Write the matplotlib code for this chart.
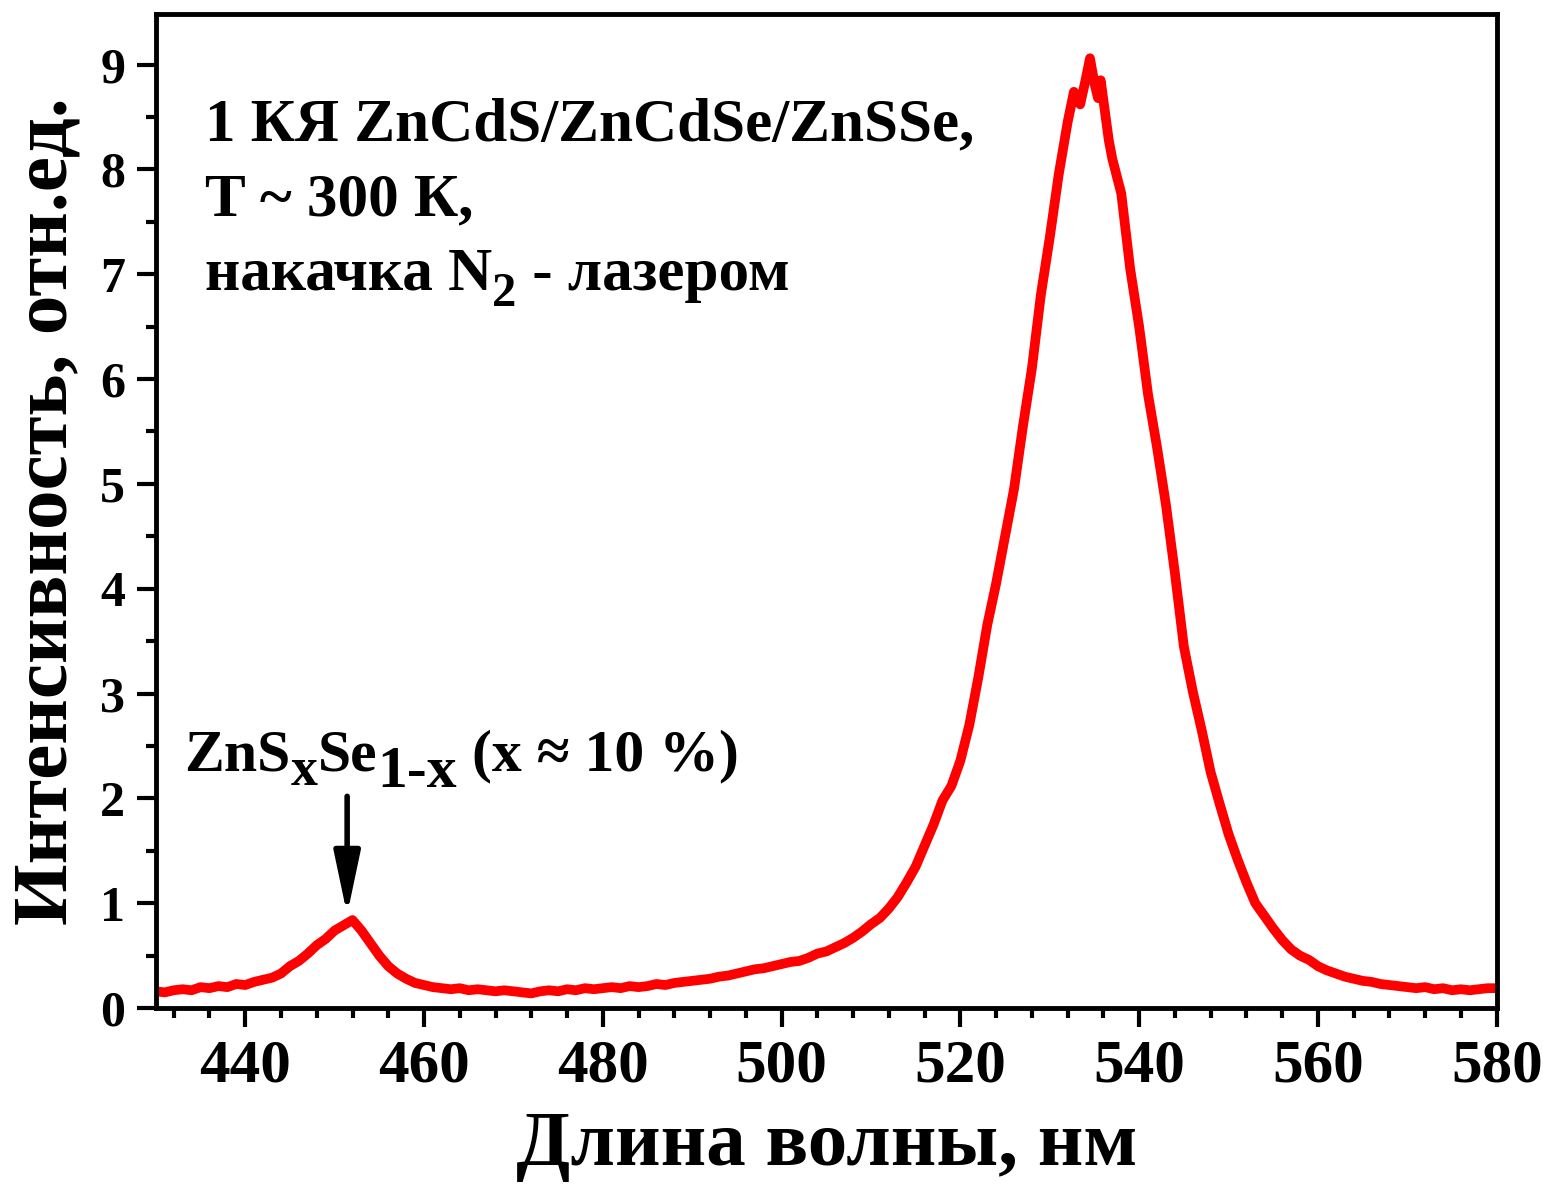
import matplotlib
matplotlib.use("Agg")
import matplotlib.pyplot as plt
from matplotlib.ticker import MultipleLocator
from matplotlib.transforms import offset_copy

plt.rcParams['font.family'] = ['Liberation Serif', 'DejaVu Serif']
plt.rcParams['font.weight'] = 'bold'

# спектр ФЛ
wavelength = [430, 431, 432, 433, 434, 435, 436, 437, 438, 439,
              440, 441, 442, 443, 444, 445, 446, 447, 448, 449,
              450, 451, 452, 453, 454, 455, 456, 457, 458, 459,
              460, 461, 462, 463, 464, 465, 466, 467, 468, 469,
              470, 471, 472, 473, 474, 475, 476, 477, 478, 479,
              480, 481, 482, 483, 484, 485, 486, 487, 488, 489,
              490, 491, 492, 493, 494, 495, 496, 497, 498, 499,
              500, 501, 502, 503, 504, 505, 506, 507, 508, 509,
              510, 511, 512, 513, 514, 515, 516, 517, 518, 519,
              520, 521, 522, 523, 524, 525, 526, 527, 528, 529,
              530, 531, 532, 532.7, 533.4, 534, 534.5, 535, 535.4, 535.7,
              536.6, 537, 538, 539, 540, 541, 542, 543, 544, 545,
              546, 547, 548, 549, 550, 551, 552, 553, 554, 555,
              556, 557, 558, 559, 560, 561, 562, 563, 564, 565,
              566, 567, 568, 569, 570, 571, 572, 573, 574, 575,
              576, 577, 578, 579, 580]
intensity = [0.16, 0.15, 0.17, 0.18, 0.17, 0.20, 0.19, 0.21, 0.20, 0.23,
             0.22, 0.25, 0.27, 0.29, 0.33, 0.40, 0.45, 0.52, 0.60, 0.66,
             0.74, 0.79, 0.84, 0.74, 0.62, 0.50, 0.40, 0.33, 0.28, 0.24,
             0.22, 0.20, 0.19, 0.18, 0.19, 0.17, 0.18, 0.17, 0.16, 0.17,
             0.16, 0.15, 0.14, 0.16, 0.17, 0.16, 0.18, 0.17, 0.19, 0.18,
             0.19, 0.20, 0.19, 0.21, 0.20, 0.21, 0.23, 0.22, 0.24, 0.25,
             0.26, 0.27, 0.28, 0.30, 0.31, 0.33, 0.35, 0.37, 0.38, 0.40,
             0.42, 0.44, 0.45, 0.48, 0.52, 0.54, 0.58, 0.62, 0.67, 0.73,
             0.80, 0.86, 0.95, 1.06, 1.20, 1.35, 1.55, 1.75, 1.98, 2.12,
             2.36, 2.70, 3.15, 3.65, 4.05, 4.50, 4.95, 5.55, 6.10, 6.80,
             7.35, 7.95, 8.45, 8.74, 8.62, 8.85, 9.06, 8.82, 8.68, 8.85,
             8.28, 8.10, 7.77, 7.05, 6.50, 5.85, 5.35, 4.80, 4.15, 3.45,
             3.02, 2.65, 2.25, 1.95, 1.66, 1.42, 1.20, 1.00, 0.88, 0.76,
             0.65, 0.56, 0.50, 0.46, 0.40, 0.36, 0.33, 0.30, 0.28, 0.26,
             0.25, 0.23, 0.22, 0.21, 0.20, 0.19, 0.20, 0.18, 0.19, 0.17,
             0.18, 0.17, 0.18, 0.19, 0.19]

fig = plt.figure(figsize=(15.43, 11.86), dpi=100)
ax = fig.add_axes([0.101, 0.150, 0.869, 0.838])

ax.plot(wavelength, intensity, color="red", linewidth=7, solid_joinstyle="round",
        solid_capstyle="round")

ax.set_xlim(430, 580)
ax.set_ylim(0, 9.48)
ax.xaxis.set_major_locator(MultipleLocator(20))
ax.xaxis.set_minor_locator(MultipleLocator(4))
ax.yaxis.set_major_locator(MultipleLocator(1))
ax.yaxis.set_minor_locator(MultipleLocator(0.5))
ax.tick_params(which="major", direction="out", length=14, width=3, pad=8)
ax.tick_params(which="minor", direction="out", length=7, width=3)
ax.tick_params(axis="x", which="major", labelsize=44)
ax.tick_params(axis="y", which="major", labelsize=36)
for sp in ax.spines.values():
    sp.set_linewidth(3.5)

ax.set_xlabel("Длина волны, нм", fontsize=57, fontweight="bold", labelpad=12)
ax.set_ylabel("Интенсивность, отн.ед.", fontsize=57, fontweight="bold", labelpad=12)

renderer = fig.canvas.get_renderer()


def rich_text(x, y, pieces, size):
    # кусочки текста с крупными индексами, сдвинутыми вниз (dy в пикселях)
    dx = 0.0
    for s, scale, dy in pieces:
        tr = offset_copy(ax.transData, fig=fig, x=dx, y=dy, units="dots")
        t = ax.text(x, y, s, fontsize=size * scale, va="baseline", ha="left",
                    transform=tr)
        dx += t.get_window_extent(renderer).width


ax.text(435.5, 8.28, "1 КЯ ZnCdS/ZnCdSe/ZnSSe,", fontsize=44, va="baseline")
ax.text(435.5, 7.56, "T ~ 300 К,", fontsize=44, va="baseline")
rich_text(435.5, 6.85, [("накачка N", 1, 0), ("2", 0.8, -16),
                        (" - лазером", 1, 0)], 44)

rich_text(433.2, 2.27, [("ZnS", 1, 0), ("x", 0.9, -15), ("Se", 1, 0),
                        ("1-x", 1, -17), (" (x ≈ 10 %)", 1, 0)], 43)

ax.annotate("", xy=(451.4, 0.89), xytext=(451.4, 2.02),
            arrowprops=dict(arrowstyle="-|>,head_length=3.8,head_width=0.8",
                            color="black", lw=4, shrinkA=0, shrinkB=0))

fig.savefig("out.png", dpi=100)
